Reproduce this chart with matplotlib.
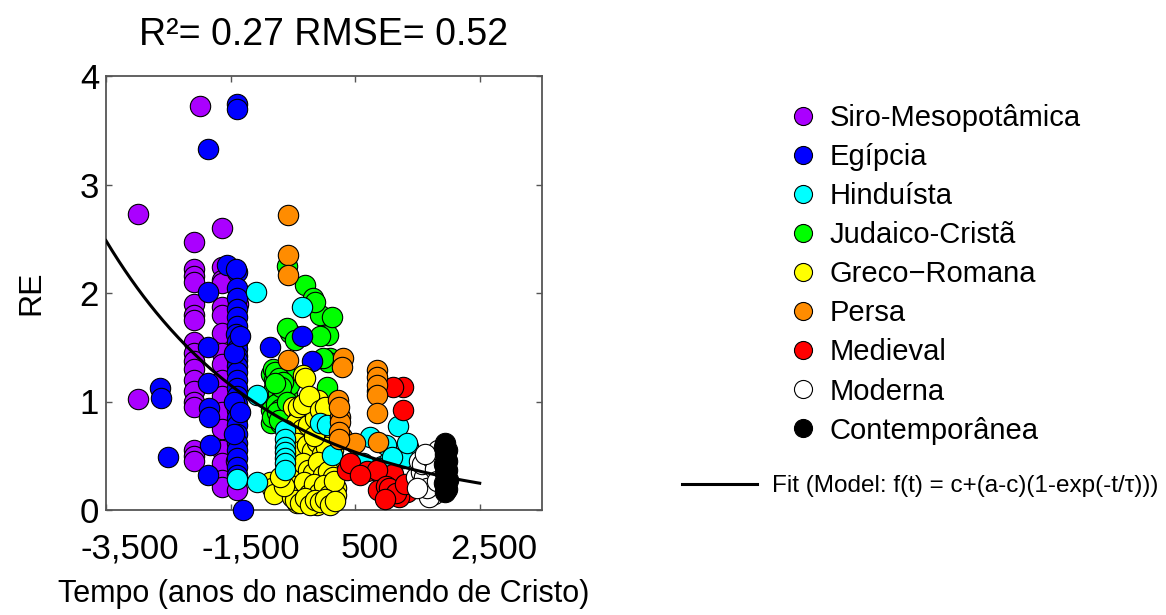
import numpy as np
import matplotlib
matplotlib.use("Agg")
import matplotlib.pyplot as plt
import matplotlib.transforms as mtransforms
from matplotlib.lines import Line2D

plt.rcParams['font.family'] = ['Liberation Sans', 'DejaVu Sans']

# ---------------- data (years, RE) ----------------
siro_x = [-1990, -2986, -2987,
          -2090, -2090, -2085, -2090, -2095, -2090, -2088, -2090, -2092, -2090, -2090, -2087, -2090, -2090, -2090, -2092, -2090, -2088,
          -1640, -1640, -1645, -1640, -1640, -1638, -1640, -1642, -1640, -1640, -1640, -1640, -1640, -1640, -1640, -1635, -1640,
          -1400, -1420, -1380, -1400]
siro_y = [3.72, 2.73, 1.02,
          2.47, 2.22, 2.16, 2.10, 1.90, 1.80, 1.75, 1.55, 1.45, 1.37, 1.30, 1.20, 1.10, 1.00, 0.95, 0.55, 0.50, 0.45,
          2.60, 2.24, 2.12, 2.09, 1.87, 1.80, 1.63, 1.45, 1.35, 1.20, 1.05, 0.90, 0.75, 0.55, 0.43, 0.28, 0.21,
          0.18, 0.45, 1.90, 1.55]

egip_x = [-1396, -1390, -1862, -2633, -2620, -2504,
          -1862, -1862, -1862, -1850, -1845, -1830, -1860,
          -1557, -1396, -1420,
          -1400, -1400, -1395, -1400, -1400, -1405, -1400, -1400, -1400, -1398, -1400, -1400, -1400, -1402, -1400,
          -1400, -1400, -1400, -1400, -1400, -1400, -1400, -1400, -1400, -1400,
          -1450, -1450, -1450, -1350, -1350,
          -866, -352, -192, -1300]
egip_y = [3.74, 3.70, 3.33, 1.12, 1.03, 0.49,
          2.01, 1.50, 1.17, 0.94, 0.86, 0.60, 0.32,
          2.26, 2.19, 2.22,
          2.05, 1.95, 1.85, 1.78, 1.70, 1.62, 1.55, 1.48, 1.42, 1.38, 1.33, 1.27, 1.20, 1.12, 1.05,
          0.98, 0.92, 0.85, 0.78, 0.70, 0.62, 0.55, 0.48, 0.40, 0.32,
          1.45, 1.00, 0.70, 1.60, 0.90,
          1.50, 1.60, 1.37, 0.00]

hind_x = [-1091, -1075, -1396, -1075,
          -625, -625, -625, -625, -625, -625, -625,
          -352, -63, 49, 130, 580, 740, 932, 1190, 1350, 1270, 1050, 850, 1000,
          628, 900, 1090, 1334]
hind_y = [2.01, 1.06, 0.29, 0.26,
          0.74, 0.65, 0.58, 0.53, 0.48, 0.43, 0.37,
          1.87, 0.80, 0.78, 0.51, 0.43, 0.67, 0.41, 0.77, 0.58, 0.48, 0.45, 1.10, 0.60,
          0.43, 0.39, 0.49, 0.62]

juda_x = [-304, -176, 97, 65, -545, -593, -465, -63, -590, 97, -144, 130, 65, 50, -304, -63, -10,
          -850, -800, -750, -700, -850, -800, -700, -650, -600, -620, -750, -850, -700, -560, -820, -620, -580, -850,
          -780, -720, -660, -810, -740, -680, -770, -710, -640, -830, -760, -690, -600, -790, -730]
juda_y = [2.07, 1.95, 1.77, 1.61, 1.63, 1.68, 1.57, 1.80, 2.25, 1.40, 1.92, 1.78, 1.36, 1.13, 0.95, 1.60, 1.40,
          1.25, 1.20, 1.15, 1.10, 1.05, 1.00, 0.95, 1.02, 1.08, 0.90, 0.85, 0.80, 0.80, 1.15, 1.30, 1.25, 0.95, 0.92,
          1.27, 1.22, 1.18, 1.12, 1.08, 1.04, 0.98, 0.93, 0.88, 0.86, 0.90, 1.13, 1.00, 1.17, 0.83]

greco_x = [-336, -304, -497, -400, -192, -290, -10, -100, -866, -830, -433, -230, 49, -800,
           -560, -470, -410, -330, -230, -150, -90, 10, 70, 150,
           -570, -490, -390, -310, -250, -170, -70, -20, 90, 170,
           -530, -450, -370, -300, -210, -130, -50, 30, 110, 190,
           -510, -430, -350, -270, -190, -110, -30, 50, 130, 200,
           -450, -350, -250, -150, -50, 100,
           -520, -440, -360, -280, -200, -120, -40, 40, 120,
           -500, -420, -340, -260, -180, -100, -20, 60, 140,
           -480, -400, -320, -240, -160, -80, 0, 80, 160,
           -460, -380, -300, -220, -140, -60, 20, 100, 180,
           -420, -330, -240, -160, -70, 20, -650, -700]
greco_y = [1.24, 1.22, 0.95, 0.86, 0.92, 0.89, 0.83, 1.01, 0.26, 0.20, 0.06, 0.06, 0.12, 0.15,
           0.65, 0.70, 0.60, 0.68, 0.62, 0.70, 0.58, 0.66, 0.60, 0.55,
           0.50, 0.45, 0.52, 0.42, 0.48, 0.40, 0.46, 0.38, 0.44, 0.36,
           0.30, 0.25, 0.33, 0.22, 0.30, 0.20, 0.28, 0.18, 0.26, 0.20,
           0.12, 0.10, 0.15, 0.08, 0.12, 0.05, 0.14, 0.08, 0.10, 0.14,
           0.80, 0.75, 0.78, 0.85, 0.74, 0.72,
           0.57, 0.62, 0.55, 0.60, 0.54, 0.63, 0.52, 0.58, 0.48,
           0.40, 0.35, 0.43, 0.37, 0.34, 0.44, 0.32, 0.36, 0.30,
           0.22, 0.18, 0.26, 0.15, 0.24, 0.16, 0.23, 0.14, 0.27,
           0.09, 0.06, 0.11, 0.05, 0.09, 0.07, 0.10, 0.05, 0.08,
           0.95, 0.98, 1.05, 0.68, 0.92, 0.95, 0.22, 0.30]

persa_x = [-577, -577, -577, -577, 306, 290, 226, 250, 260, 290, 498,
           852, 852, 852, 852, 852, 868, 240, 240, 240]
persa_y = [2.72, 2.35, 2.17, 1.38, 1.40, 1.32, 1.01, 0.86, 0.81, 0.67, 0.62,
           1.29, 1.23, 1.15, 1.06, 0.89, 0.63, 0.95, 0.72, 0.65]

medi_x = [1270, 1110, 1270, 370, 420, 692, 948, 1110, 1334, 948, 1110, 852, 868, 580, 1000, 1200, 1050,
          1150, 1300, 980]
medi_y = [1.13, 1.13, 0.92, 0.37, 0.43, 0.36, 0.17, 0.25, 0.17, 0.28, 0.33, 0.37, 0.18, 0.32, 0.22, 0.12, 0.20,
          0.16, 0.24, 0.10]

mod_x = [1480, 1520, 1550, 1580, 1600, 1620, 1650, 1680, 1700, 1720, 1750, 1780, 1800, 1820, 1850, 1860,
         1640, 1760, 1700, 1600, 1830, 1680, 1570, 1730, 1790, 1660, 1810, 1620, 1500]
mod_y = [0.30, 0.45, 0.35, 0.25, 0.45, 0.18, 0.30, 0.50, 0.22, 0.40, 0.28, 0.52, 0.20, 0.35, 0.45, 0.25,
         0.40, 0.15, 0.33, 0.30, 0.55, 0.12, 0.42, 0.48, 0.38, 0.20, 0.27, 0.52, 0.20]

cont_x = [1950, 1930, 1970, 1940, 1960, 1980, 1930, 1950, 1970, 1940, 1960, 1990, 1930, 1950, 1970, 1945]
cont_y = [0.62, 0.58, 0.55, 0.52, 0.48, 0.45, 0.42, 0.40, 0.37, 0.34, 0.31, 0.28, 0.25, 0.22, 0.19, 0.17]

groups = ["Siro-Mesopotâmica", "Egípcia", "Hinduísta", "Judaico-Cristã", "Greco\u2212Romana",
          "Persa", "Medieval", "Moderna", "Contemporânea"]
colors = ["#AA00FF", "#0000FF", "#00FFFF", "#00FF00", "#FFFF00",
          "#FF8C00", "#FF0000", "#FFFFFF", "#000000"]
series_x = [siro_x, egip_x, hind_x, juda_x, greco_x, persa_x, medi_x, mod_x, cont_x]
series_y = [siro_y, egip_y, hind_y, juda_y, greco_y, persa_y, medi_y, mod_y, cont_y]
draw_z = [3, 4, 6, 2, 5, 7, 6.5, 8, 9]

# fit: f(t) = c + (a-c)(1-exp(-t/tau))
fit_a, fit_c, fit_tau = 0.0, 0.646, 2600.0
fit_t0, fit_t1 = -3500, 2500

title = "R²= 0.27 RMSE= 0.52"
xlab = "Tempo (anos do nascimendo de Cristo)"
ylab = "RE"
xticks = [-3500, -1500, 500, 2500]
xticklabels = ["-3,500", "-1,500", "500", "2,500"]
yticks = [0, 1, 2, 3, 4]

# ---------------- plot ----------------
fig = plt.figure(figsize=(11.66, 6.15), dpi=100)
ax = fig.add_axes([106/1166, 1 - 510/615, 436/1166, 434/615])

for xs, ys, col, z in zip(series_x, series_y, colors, draw_z):
    ax.scatter(xs, ys, s=215, c=col, edgecolors="black", linewidths=0.8, zorder=z, clip_on=False)

t = np.linspace(fit_t0, fit_t1, 300)
ax.plot(t, fit_c + (fit_a - fit_c) * (1 - np.exp(-t / fit_tau)), color="black", lw=2.2, zorder=20)

ax.set_xlim(-3500, 3500)
ax.set_ylim(0, 4)
ax.set_xticks(xticks)
ax.set_xticklabels(xticklabels)
ax.set_yticks(yticks)
ax.tick_params(axis="both", direction="in", top=True, right=True, length=4, width=1,
               color="#555555", labelsize=25)
ax.tick_params(axis="x", pad=16)
ax.tick_params(axis="y", pad=5)
for sp in ax.spines.values():
    sp.set_color("#555555")
    sp.set_linewidth(1.3)

# the reference renders its x tick labels slightly to the right of the ticks
label_shift_px = [24, 20, 14, 14]
for lab, dx in zip(ax.get_xticklabels(), label_shift_px):
    lab.set_transform(lab.get_transform() + mtransforms.ScaledTranslation(dx / 100, 0, fig.dpi_scale_trans))

ax.set_title(title, fontsize=27, pad=22)
ax.set_xlabel(xlab, fontsize=22, labelpad=10)
ax.set_ylabel(ylab, fontsize=23, labelpad=24)

handles = [Line2D([], [], ls="none", marker="o", markersize=13, markerfacecolor=c,
                  markeredgecolor="black", markeredgewidth=0.8) for c in colors]
leg1 = fig.legend(handles, groups, loc="upper left", bbox_to_anchor=(788/1166, 1 - 104/615),
                  bbox_transform=fig.transFigure, frameon=False, fontsize=21,
                  handlelength=1.0, handletextpad=0.43, labelspacing=0.38,
                  borderpad=0, borderaxespad=0)
fit_handle = Line2D([], [], color="black", lw=2.2)
leg2 = fig.legend([fit_handle], ["Fit (Model: f(t) = c+(a-c)(1-exp(-t/τ)))"], loc="upper left",
                  bbox_to_anchor=(682/1166, 1 - 475/615), bbox_transform=fig.transFigure,
                  frameon=False, fontsize=17.5, handlelength=3.1, handletextpad=0.6,
                  borderpad=0, borderaxespad=0)

fig.savefig("out.png", dpi=100)
